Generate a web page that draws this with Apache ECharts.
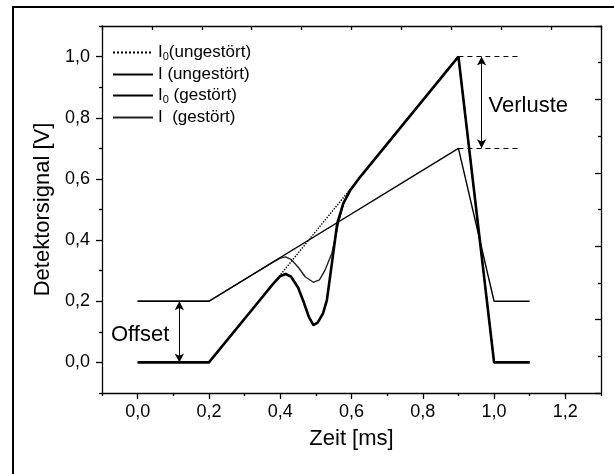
<!DOCTYPE html>
<html>
<head>
<meta charset="utf-8">
<script src="https://cdn.jsdelivr.net/npm/echarts@6/dist/echarts.min.js"></script>
<style>
  html, body { margin: 0; padding: 0; background: #fff; }
  #main { width: 614px; height: 474px; }
</style>
</head>
<body>
<div id="main"></div>
<script>
// --- data ---
var seriesNames = ['I0(ungestört)', 'I (ungestört)', 'I0 (gestört)', 'I  (gestört)'];

// I0 undisturbed (dotted ramp)
var i0uX = [0, 0.2, 0.9, 1.0, 1.1];
var i0uY = [0, 0, 1.0, 0, 0];

// I undisturbed (thin ramp with offset)
var iuX = [0, 0.2, 0.9, 1.0, 1.1];
var iuY = [0.2, 0.2, 0.7, 0.2, 0.2];

// I0 disturbed (thick, deep dip)
var i0gX = [0, 0.2, 0.35, 0.38, 0.40, 0.415, 0.43, 0.45, 0.465, 0.48, 0.493, 0.505, 0.52, 0.531, 0.545, 0.56, 0.577, 0.596, 0.62, 0.9, 1.0, 1.1];
var i0gY = [0, 0, 0.214, 0.257, 0.282, 0.289, 0.281, 0.245, 0.200, 0.150, 0.122, 0.130, 0.160, 0.204, 0.324, 0.455, 0.520, 0.562, 0.600, 1.0, 0, 0];

// I disturbed (thin, shallow dip)
var igX = [0, 0.2, 0.38, 0.40, 0.415, 0.43, 0.45, 0.47, 0.493, 0.51, 0.525, 0.545, 0.555, 0.565, 0.578, 0.591, 0.61, 0.9, 1.0, 1.1];
var igY = [0.2, 0.2, 0.328, 0.341, 0.345, 0.337, 0.312, 0.280, 0.262, 0.270, 0.300, 0.357, 0.410, 0.465, 0.520, 0.555, 0.586, 1.0, 0, 0];

// axis ticks
var xMajor = [0, 0.2, 0.4, 0.6, 0.8, 1.0, 1.2];
var xMinor = [-0.1, 0.1, 0.3, 0.5, 0.7, 0.9, 1.1, 1.3];
var yMajor = [0, 0.2, 0.4, 0.6, 0.8, 1.0];
var yMinor = [-0.1, 0.1, 0.3, 0.5, 0.7, 0.9, 1.1];

// annotations
var offsetArrow = [[0.117, 0.2], [0.117, 0]];
var lossArrow = [[0.965, 1.0], [0.965, 0.7]];
var lossDashTop = [[0.9, 1.0], [1.067, 1.0]];
var lossDashBottom = [[0.9, 0.7], [1.067, 0.7]];
var offsetText = [0.007, 0.09];
var lossText = [0.983, 0.838];

function pairs(xs, ys) {
    return xs.map(function (x, i) { return [x, ys[i]]; });
}
function comma(v) {
    return v.toFixed(1).replace('.', ',');
}

var font = "'Liberation Sans', Arial, sans-serif";
var chart = echarts.init(document.getElementById('main'));

var option = {
    animation: false,
    backgroundColor: '#fff',
    textStyle: { fontFamily: font, color: '#000' },
    grid: { left: 102, right: 13, top: 26, bottom: 81 },
    graphic: [{
        type: 'rect',
        shape: { x: 13, y: 7, width: 640, height: 500 },
        style: { fill: 'none', stroke: '#000', lineWidth: 2 },
        silent: true
    }],
    legend: {
        data: seriesNames,
        orient: 'vertical',
        left: 112,
        top: 44,
        padding: 0,
        itemWidth: 40,
        itemHeight: 12,
        itemGap: 4,
        selectedMode: false,
        itemStyle: { opacity: 0 },
        textStyle: {
            fontFamily: font,
            fontSize: 17,
            color: '#000',
            rich: {
                sub: { fontSize: 11, fontFamily: font, padding: [8, 0, 0, 0] }
            }
        },
        formatter: function (name) {
            return name.replace('I0', 'I{sub|0}');
        }
    },
    xAxis: [{
        type: 'value',
        min: -0.1,
        max: 1.3,
        position: 'bottom',
        name: 'Zeit [ms]',
        nameLocation: 'middle',
        nameGap: 35,
        nameTextStyle: { fontSize: 22, fontFamily: font, color: '#000' },
        axisLine: { show: true, onZero: false, lineStyle: { color: '#000', width: 1.3 } },
        axisTick: { show: true, length: 6, customValues: xMajor, lineStyle: { color: '#000', width: 1.3 } },
        axisLabel: { customValues: xMajor, fontSize: 18, color: '#000', margin: 10, fontFamily: font, formatter: comma },
        splitLine: { show: false }
    }, {
        type: 'value',
        min: -0.1,
        max: 1.3,
        position: 'bottom',
        axisLine: { show: false, onZero: false },
        axisTick: { show: true, length: 3, customValues: xMinor, lineStyle: { color: '#000', width: 1.3 } },
        axisLabel: { show: false },
        splitLine: { show: false }
    }, {
        type: 'value',
        min: 0,
        max: 10,
        interval: 1,
        position: 'top',
        axisLine: { show: true, onZero: false, lineStyle: { color: '#000', width: 1.3 } },
        axisTick: { show: true, inside: true, length: 4, lineStyle: { color: '#000', width: 1.3 } },
        axisLabel: { show: false },
        splitLine: { show: false }
    }],
    yAxis: [{
        type: 'value',
        min: -0.1,
        max: 1.1,
        position: 'left',
        name: 'Detektorsignal [V]',
        nameLocation: 'middle',
        nameGap: 47,
        nameTextStyle: { fontSize: 22, fontFamily: font, color: '#000' },
        axisLine: { show: true, onZero: false, lineStyle: { color: '#000', width: 1.3 } },
        axisTick: { show: true, length: 6, customValues: yMajor, lineStyle: { color: '#000', width: 1.3 } },
        axisLabel: { customValues: yMajor, fontSize: 18, color: '#000', margin: 12, fontFamily: font, formatter: comma },
        splitLine: { show: false }
    }, {
        type: 'value',
        min: -0.1,
        max: 1.1,
        position: 'left',
        axisLine: { show: false, onZero: false },
        axisTick: { show: true, length: 3, customValues: yMinor, lineStyle: { color: '#000', width: 1.3 } },
        axisLabel: { show: false },
        splitLine: { show: false }
    }, {
        type: 'value',
        min: 0,
        max: 10,
        interval: 2,
        position: 'right',
        axisLine: { show: true, onZero: false, lineStyle: { color: '#000', width: 1.3 } },
        axisTick: { show: true, inside: true, length: 6, lineStyle: { color: '#000', width: 1.3 } },
        minorTick: { show: true, splitNumber: 2, length: 3, lineStyle: { color: '#000', width: 1.3 } },
        axisLabel: { show: false },
        splitLine: { show: false },
        minorSplitLine: { show: false }
    }],
    series: [
        {
            name: seriesNames[3],
            type: 'line',
            data: pairs(igX, igY),
            symbol: 'none',
            z: 2,
            lineStyle: { color: '#222', width: 1.4 },
            itemStyle: { color: '#222' }
        },
        {
            name: seriesNames[1],
            type: 'line',
            data: pairs(iuX, iuY),
            symbol: 'none',
            z: 3,
            lineStyle: { color: '#000', width: 1.4 },
            itemStyle: { color: '#000' }
        },
        {
            name: seriesNames[0],
            type: 'line',
            data: pairs(i0uX, i0uY),
            symbol: 'none',
            z: 4,
            lineStyle: { color: '#000', width: 1.4, type: 'dotted' },
            itemStyle: { color: '#000' }
        },
        {
            name: seriesNames[2],
            type: 'line',
            data: pairs(i0gX, i0gY),
            symbol: 'none',
            z: 5,
            lineStyle: { color: '#000', width: 2.6 },
            itemStyle: { color: '#000' }
        },
        {
            name: 'annot',
            type: 'line',
            data: [],
            symbol: 'none',
            silent: true,
            markLine: {
                silent: true,
                symbol: ['arrow', 'arrow'],
                symbolSize: [7, 9],
                label: { show: false },
                emphasis: { disabled: true },
                lineStyle: { color: '#000', width: 1, type: 'solid' },
                data: [
                    [{ coord: offsetArrow[0] }, { coord: offsetArrow[1] }],
                    [{ coord: lossArrow[0] }, { coord: lossArrow[1] }],
                    [{ coord: lossDashTop[0], symbol: 'none', lineStyle: { type: [5, 4], width: 1 } }, { coord: lossDashTop[1], symbol: 'none' }],
                    [{ coord: lossDashBottom[0], symbol: 'none', lineStyle: { type: [5, 4], width: 1 } }, { coord: lossDashBottom[1], symbol: 'none' }]
                ]
            },
            markPoint: {
                silent: true,
                symbol: 'circle',
                symbolSize: 1,
                itemStyle: { color: 'rgba(0,0,0,0)' },
                data: [
                    { coord: offsetText, label: { show: true, position: 'inside', formatter: 'Offset', fontSize: 22, fontFamily: font, color: '#000' } },
                    { coord: lossText, label: { show: true, position: 'right', distance: 0, formatter: 'Verluste', fontSize: 22, fontFamily: font, color: '#000' } }
                ]
            }
        }
    ]
};

chart.setOption(option);
</script>
</body>
</html>
